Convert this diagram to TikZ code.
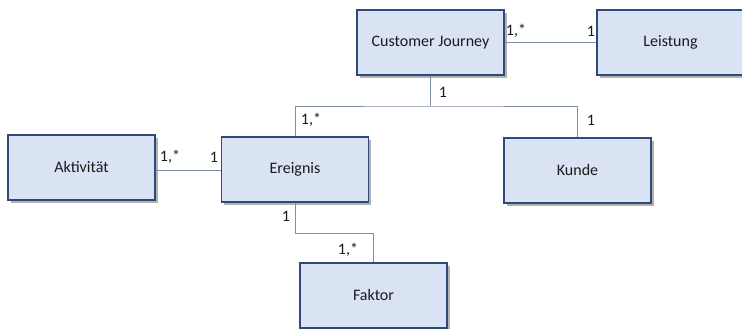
\documentclass[tikz,border=0pt]{standalone}
\usepackage{fontspec}
\setmainfont{Carlito}
\usetikzlibrary{shadows}
\definecolor{boxfill}{HTML}{DAE3F3}
\definecolor{boxline}{HTML}{2F4A7A}
\definecolor{conline}{HTML}{7F8FA6}
\definecolor{labtxt}{HTML}{1A1A1A}
\tikzset{
  entity/.style={draw=boxline, line width=1.4pt, fill=boxfill, minimum width=147pt, minimum height=65pt, inner sep=0pt,
    font=\fontsize{16}{19}\selectfont, text=labtxt,
    drop shadow={shadow xshift=2.5pt, shadow yshift=-3pt, opacity=0.3, fill=black}},
  conn/.style={draw=conline, line width=0.9pt},
  mult/.style={font=\fontsize{16}{19}\selectfont, text=labtxt, inner sep=0pt}
}
\begin{document}
\begin{tikzpicture}[x=1pt,y=-1pt]
\useasboundingbox (0,0) rectangle (742,329);
\begin{scope}
\clip (0,0) rectangle (742,329);
\node[entity] (cj) at (430.5,42.5) {Customer Journey};
\node[entity] (leistung) at (670.5,42.5) {Leistung};
\node[entity] (aktiv) at (81.5,167.5) {Aktivität};
\node[entity] (ereignis) at (295,169.5) {Ereignis};
\node[entity] (kunde) at (577.5,170.5) {Kunde};
\node[entity] (faktor) at (373.5,295.5) {Faktor};
\end{scope}
\coordinate (j1) at (430.5,106);
\coordinate (j2) at (295,233);
\draw[conn] (cj.east) -- (leistung.west |- cj.east);
\draw[conn] (aktiv.east |- 0,170) -- (ereignis.west |- 0,170);
\draw[conn] (cj.south) -- (j1);
\draw[conn] (ereignis.north) |- (j1) -| (kunde.north);
\draw[conn] (ereignis.south) -- (j2) -| (faktor.north);
\node[mult] (m1) at (516,31) {1,*};
\node[mult] (m2) at (591,31) {1};
\node[mult] (m3) at (443,92) {1};
\node[mult] (m4) at (591,120) {1};
\node[mult] (m5) at (311,120) {1,*};
\node[mult] (m6) at (170,157) {1,*};
\node[mult] (m7) at (214,157) {1};
\node[mult] (m8) at (286,216) {1};
\node[mult] (m9) at (348,250) {1,*};
\end{tikzpicture}
\end{document}
